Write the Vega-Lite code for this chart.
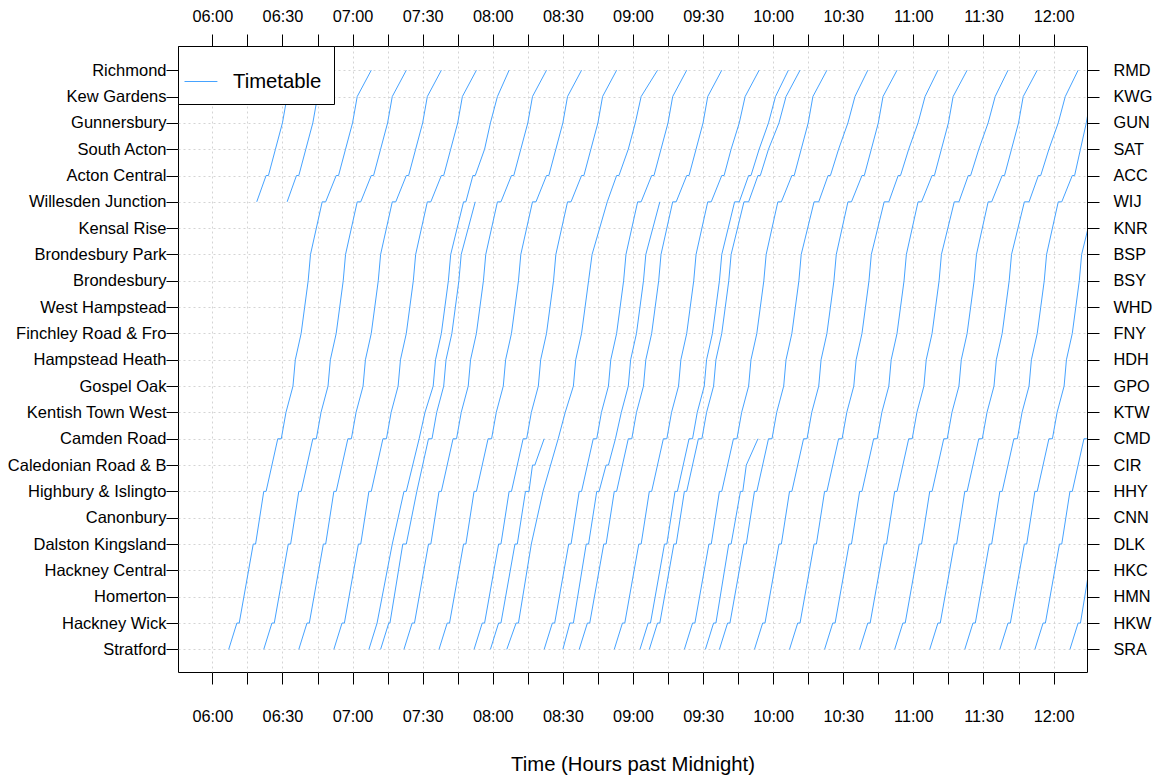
{
"$schema":"https://vega.github.io/schema/vega-lite/v6.json",
"width":909,"height":626,
"autosize":{"type":"none"},
"padding":{"left":178,"top":46,"right":70,"bottom":107},
"background":"white",
"config":{"font":"Liberation Sans","view":{"stroke":"black","strokeWidth":1}},
"data":{"values":[
{"n":1,"s":1,"t":367},{"n":1,"s":2,"t":370.5},{"n":1,"s":2,"t":371.5},{"n":1,"s":5,"t":377.5},{"n":1,"s":5,"t":378.5},{"n":1,"s":7,"t":382},{"n":1,"s":7,"t":383},{"n":1,"s":9,"t":388},{"n":1,"s":9,"t":389.5},{"n":1,"s":10,"t":391.5},{"n":1,"s":11,"t":394.5},{"n":1,"s":12,"t":395.5},{"n":1,"s":13,"t":398},{"n":1,"s":14,"t":399.5},{"n":1,"s":15,"t":401},{"n":1,"s":16,"t":402},{"n":1,"s":18,"t":407},{"n":1,"s":18,"t":408.5},{"n":1,"s":19,"t":413},{"n":1,"s":19,"t":414},{"n":1,"s":20,"t":417},{"n":1,"s":21,"t":420},{"n":1,"s":22,"t":422},{"n":1,"s":23,"t":428},
{"n":2,"s":1,"t":382},{"n":2,"s":2,"t":385.5},{"n":2,"s":2,"t":386.5},{"n":2,"s":5,"t":392.5},{"n":2,"s":5,"t":393.5},{"n":2,"s":7,"t":397},{"n":2,"s":7,"t":398},{"n":2,"s":9,"t":403},{"n":2,"s":9,"t":404.5},{"n":2,"s":10,"t":406.5},{"n":2,"s":11,"t":409.5},{"n":2,"s":12,"t":410.5},{"n":2,"s":13,"t":413},{"n":2,"s":14,"t":414.5},{"n":2,"s":15,"t":416},{"n":2,"s":16,"t":417},{"n":2,"s":18,"t":422},{"n":2,"s":18,"t":423.5},{"n":2,"s":19,"t":428},{"n":2,"s":19,"t":429},{"n":2,"s":20,"t":432},{"n":2,"s":21,"t":435},{"n":2,"s":22,"t":437},{"n":2,"s":23,"t":443},
{"n":3,"s":1,"t":397},{"n":3,"s":2,"t":400.5},{"n":3,"s":2,"t":401.5},{"n":3,"s":5,"t":407.5},{"n":3,"s":5,"t":408.5},{"n":3,"s":7,"t":412},{"n":3,"s":7,"t":413},{"n":3,"s":9,"t":418},{"n":3,"s":9,"t":419.5},{"n":3,"s":10,"t":421.5},{"n":3,"s":11,"t":424.5},{"n":3,"s":12,"t":425.5},{"n":3,"s":13,"t":428},{"n":3,"s":14,"t":429.5},{"n":3,"s":15,"t":431},{"n":3,"s":16,"t":432},{"n":3,"s":18,"t":437},{"n":3,"s":18,"t":438.5},{"n":3,"s":19,"t":443},{"n":3,"s":19,"t":444},{"n":3,"s":20,"t":447},{"n":3,"s":21,"t":450},{"n":3,"s":22,"t":452},{"n":3,"s":23,"t":458},
{"n":4,"s":1,"t":412},{"n":4,"s":2,"t":415.5},{"n":4,"s":2,"t":416.5},{"n":4,"s":5,"t":422.5},{"n":4,"s":5,"t":423.5},{"n":4,"s":7,"t":427},{"n":4,"s":7,"t":428},{"n":4,"s":9,"t":433},{"n":4,"s":9,"t":434.5},{"n":4,"s":10,"t":436.5},{"n":4,"s":11,"t":439.5},{"n":4,"s":12,"t":440.5},{"n":4,"s":13,"t":443},{"n":4,"s":14,"t":444.5},{"n":4,"s":15,"t":446},{"n":4,"s":16,"t":447},{"n":4,"s":18,"t":452},{"n":4,"s":18,"t":453.5},{"n":4,"s":19,"t":458},{"n":4,"s":19,"t":459},{"n":4,"s":20,"t":462},{"n":4,"s":21,"t":465},{"n":4,"s":22,"t":467},{"n":4,"s":23,"t":473},
{"n":5,"s":1,"t":427},{"n":5,"s":2,"t":430.5},{"n":5,"s":5,"t":437},{"n":5,"s":7,"t":442},{"n":5,"s":7,"t":443},{"n":5,"s":9,"t":448.5},{"n":5,"s":10,"t":451},{"n":5,"s":11,"t":454.5},{"n":5,"s":12,"t":455.5},{"n":5,"s":13,"t":458},{"n":5,"s":14,"t":459.5},{"n":5,"s":15,"t":461},{"n":5,"s":16,"t":462},{"n":5,"s":18,"t":467.5},{"n":5,"s":18,"t":468.5},{"n":5,"s":19,"t":471.5},{"n":5,"s":19,"t":472.5},{"n":5,"s":20,"t":476.5},{"n":5,"s":21,"t":479},{"n":5,"s":22,"t":482},{"n":5,"s":23,"t":487},
{"n":6,"s":1,"t":432},{"n":6,"s":2,"t":435.5},{"n":6,"s":2,"t":436},{"n":6,"s":5,"t":441.5},{"n":6,"s":5,"t":443},{"n":6,"s":7,"t":447.5},{"n":6,"s":9,"t":452.5},{"n":6,"s":9,"t":454},{"n":6,"s":10,"t":456},{"n":6,"s":11,"t":459},{"n":6,"s":12,"t":460},{"n":6,"s":13,"t":462.5},{"n":6,"s":14,"t":464},{"n":6,"s":15,"t":465.5},{"n":6,"s":16,"t":466.5},{"n":6,"s":18,"t":472.5},
{"n":7,"s":1,"t":442},{"n":7,"s":2,"t":445.5},{"n":7,"s":2,"t":446.5},{"n":7,"s":5,"t":452.5},{"n":7,"s":5,"t":453.5},{"n":7,"s":7,"t":457},{"n":7,"s":7,"t":458},{"n":7,"s":9,"t":463},{"n":7,"s":9,"t":464.5},{"n":7,"s":10,"t":466.5},{"n":7,"s":11,"t":469.5},{"n":7,"s":12,"t":470.5},{"n":7,"s":13,"t":473},{"n":7,"s":14,"t":474.5},{"n":7,"s":15,"t":476},{"n":7,"s":16,"t":477},{"n":7,"s":18,"t":482},{"n":7,"s":18,"t":483.5},{"n":7,"s":19,"t":488},{"n":7,"s":19,"t":489},{"n":7,"s":20,"t":492},{"n":7,"s":21,"t":495},{"n":7,"s":22,"t":497},{"n":7,"s":23,"t":503},
{"n":8,"s":1,"t":457},{"n":8,"s":2,"t":460.5},{"n":8,"s":2,"t":461.5},{"n":8,"s":5,"t":467.5},{"n":8,"s":5,"t":468.5},{"n":8,"s":7,"t":472},{"n":8,"s":7,"t":473},{"n":8,"s":9,"t":478},{"n":8,"s":9,"t":479.5},{"n":8,"s":10,"t":481.5},{"n":8,"s":11,"t":484.5},{"n":8,"s":12,"t":485.5},{"n":8,"s":13,"t":488},{"n":8,"s":14,"t":489.5},{"n":8,"s":15,"t":491},{"n":8,"s":16,"t":492},{"n":8,"s":18,"t":497},{"n":8,"s":18,"t":498.5},{"n":8,"s":19,"t":503},{"n":8,"s":19,"t":504},{"n":8,"s":20,"t":507},{"n":8,"s":21,"t":510},{"n":8,"s":22,"t":512},{"n":8,"s":23,"t":518},
{"n":9,"s":1,"t":472},{"n":9,"s":2,"t":475.5},{"n":9,"s":2,"t":476.5},{"n":9,"s":5,"t":482.5},{"n":9,"s":5,"t":483.5},{"n":9,"s":7,"t":487},{"n":9,"s":7,"t":488},{"n":9,"s":9,"t":493},{"n":9,"s":9,"t":494.5},{"n":9,"s":10,"t":496.5},{"n":9,"s":11,"t":499.5},{"n":9,"s":12,"t":500.5},{"n":9,"s":13,"t":503},{"n":9,"s":14,"t":504.5},{"n":9,"s":15,"t":506},{"n":9,"s":16,"t":507},{"n":9,"s":18,"t":512},{"n":9,"s":18,"t":513.5},{"n":9,"s":19,"t":518},{"n":9,"s":19,"t":519},{"n":9,"s":20,"t":522},{"n":9,"s":21,"t":525},{"n":9,"s":22,"t":527},{"n":9,"s":23,"t":533},
{"n":10,"s":1,"t":479},{"n":10,"s":2,"t":482.5},{"n":10,"s":2,"t":483.5},{"n":10,"s":5,"t":489.5},{"n":10,"s":5,"t":490.5},{"n":10,"s":7,"t":494},{"n":10,"s":7,"t":495.5},{"n":10,"s":8,"t":497},{"n":10,"s":8,"t":498},{"n":10,"s":9,"t":502},
{"n":11,"s":1,"t":486},{"n":11,"s":2,"t":490},{"n":11,"s":2,"t":491},{"n":11,"s":5,"t":496.5},{"n":11,"s":7,"t":501.5},{"n":11,"s":9,"t":508},{"n":11,"s":10,"t":511},{"n":11,"s":11,"t":514.5},{"n":11,"s":12,"t":515.5},{"n":11,"s":13,"t":518},{"n":11,"s":14,"t":519.5},{"n":11,"s":15,"t":521},{"n":11,"s":16,"t":522.5},{"n":11,"s":18,"t":529},{"n":11,"s":19,"t":533},{"n":11,"s":19,"t":534},{"n":11,"s":20,"t":538},{"n":11,"s":21,"t":541},{"n":11,"s":22,"t":543.5},{"n":11,"s":23,"t":550.5},
{"n":12,"s":1,"t":502},{"n":12,"s":2,"t":505.5},{"n":12,"s":2,"t":506.5},{"n":12,"s":5,"t":512.5},{"n":12,"s":5,"t":513.5},{"n":12,"s":7,"t":517},{"n":12,"s":7,"t":518},{"n":12,"s":9,"t":523},{"n":12,"s":9,"t":524.5},{"n":12,"s":10,"t":526.5},{"n":12,"s":11,"t":529.5},{"n":12,"s":12,"t":530.5},{"n":12,"s":13,"t":533},{"n":12,"s":14,"t":534.5},{"n":12,"s":15,"t":536},{"n":12,"s":16,"t":537},{"n":12,"s":18,"t":542},{"n":12,"s":18,"t":543.5},{"n":12,"s":19,"t":548},{"n":12,"s":19,"t":549},{"n":12,"s":20,"t":552},{"n":12,"s":21,"t":555},{"n":12,"s":22,"t":557},{"n":12,"s":23,"t":563},
{"n":13,"s":1,"t":510},{"n":13,"s":2,"t":513},{"n":13,"s":2,"t":514.5},{"n":13,"s":5,"t":520},{"n":13,"s":5,"t":521},{"n":13,"s":7,"t":524.5},{"n":13,"s":7,"t":525.5},{"n":13,"s":8,"t":528.5},{"n":13,"s":8,"t":529.5},{"n":13,"s":9,"t":532.5},{"n":13,"s":10,"t":535},{"n":13,"s":11,"t":538},{"n":13,"s":12,"t":539},{"n":13,"s":13,"t":541.5},{"n":13,"s":14,"t":543},{"n":13,"s":15,"t":544.5},{"n":13,"s":16,"t":545.5},{"n":13,"s":18,"t":551.5},
{"n":14,"s":1,"t":517},{"n":14,"s":2,"t":520.5},{"n":14,"s":2,"t":521.5},{"n":14,"s":5,"t":527.5},{"n":14,"s":5,"t":528.5},{"n":14,"s":7,"t":532},{"n":14,"s":7,"t":533},{"n":14,"s":9,"t":538},{"n":14,"s":9,"t":539.5},{"n":14,"s":10,"t":541.5},{"n":14,"s":11,"t":544.5},{"n":14,"s":12,"t":545.5},{"n":14,"s":13,"t":548},{"n":14,"s":14,"t":549.5},{"n":14,"s":15,"t":551},{"n":14,"s":16,"t":552},{"n":14,"s":18,"t":557},{"n":14,"s":18,"t":558.5},{"n":14,"s":19,"t":563},{"n":14,"s":19,"t":564},{"n":14,"s":20,"t":567},{"n":14,"s":21,"t":570},{"n":14,"s":22,"t":572},{"n":14,"s":23,"t":578},
{"n":15,"s":1,"t":532},{"n":15,"s":2,"t":535.5},{"n":15,"s":2,"t":536.5},{"n":15,"s":5,"t":542.5},{"n":15,"s":5,"t":543.5},{"n":15,"s":7,"t":547},{"n":15,"s":7,"t":548},{"n":15,"s":9,"t":553},{"n":15,"s":9,"t":554.5},{"n":15,"s":10,"t":556.5},{"n":15,"s":11,"t":559.5},{"n":15,"s":12,"t":560.5},{"n":15,"s":13,"t":563},{"n":15,"s":14,"t":564.5},{"n":15,"s":15,"t":566},{"n":15,"s":16,"t":567},{"n":15,"s":18,"t":572},{"n":15,"s":18,"t":573.5},{"n":15,"s":19,"t":578},{"n":15,"s":19,"t":579},{"n":15,"s":20,"t":582},{"n":15,"s":21,"t":585.5},{"n":15,"s":22,"t":588},{"n":15,"s":23,"t":594},
{"n":16,"s":1,"t":543},{"n":16,"s":2,"t":546.5},{"n":16,"s":2,"t":547.5},{"n":16,"s":5,"t":553.5},{"n":16,"s":5,"t":554.5},{"n":16,"s":7,"t":558},{"n":16,"s":7,"t":559},{"n":16,"s":9,"t":564},{"n":16,"s":9,"t":565.5},{"n":16,"s":10,"t":567.5},{"n":16,"s":11,"t":570.5},{"n":16,"s":12,"t":571.5},{"n":16,"s":13,"t":574},{"n":16,"s":14,"t":575.5},{"n":16,"s":15,"t":577},{"n":16,"s":16,"t":578},{"n":16,"s":18,"t":583.5},{"n":16,"s":18,"t":585.5},{"n":16,"s":19,"t":589.5},{"n":16,"s":19,"t":590.5},{"n":16,"s":20,"t":594},{"n":16,"s":21,"t":598},{"n":16,"s":22,"t":601},{"n":16,"s":23,"t":606.5},
{"n":17,"s":1,"t":547},{"n":17,"s":2,"t":550.5},{"n":17,"s":2,"t":551.5},{"n":17,"s":5,"t":557.5},{"n":17,"s":5,"t":558.5},{"n":17,"s":7,"t":562},{"n":17,"s":7,"t":563},{"n":17,"s":9,"t":568},{"n":17,"s":9,"t":569.5},{"n":17,"s":10,"t":571.5},{"n":17,"s":11,"t":574.5},{"n":17,"s":12,"t":575.5},{"n":17,"s":13,"t":578},{"n":17,"s":14,"t":579.5},{"n":17,"s":15,"t":581},{"n":17,"s":16,"t":582},{"n":17,"s":18,"t":587.5},{"n":17,"s":18,"t":589.5},{"n":17,"s":19,"t":593.5},{"n":17,"s":19,"t":594.5},{"n":17,"s":20,"t":598},{"n":17,"s":21,"t":602.5},{"n":17,"s":22,"t":605.5},{"n":17,"s":23,"t":611.5},
{"n":18,"s":1,"t":562},{"n":18,"s":2,"t":565.5},{"n":18,"s":2,"t":566.5},{"n":18,"s":5,"t":572.5},{"n":18,"s":5,"t":573.5},{"n":18,"s":7,"t":577},{"n":18,"s":7,"t":578},{"n":18,"s":9,"t":583},{"n":18,"s":9,"t":584.5},{"n":18,"s":10,"t":586.5},{"n":18,"s":11,"t":589.5},{"n":18,"s":12,"t":590.5},{"n":18,"s":13,"t":593},{"n":18,"s":14,"t":594.5},{"n":18,"s":15,"t":596},{"n":18,"s":16,"t":597},{"n":18,"s":18,"t":602},{"n":18,"s":18,"t":603.5},{"n":18,"s":19,"t":608},{"n":18,"s":19,"t":609},{"n":18,"s":20,"t":612},{"n":18,"s":21,"t":615},{"n":18,"s":22,"t":617},{"n":18,"s":23,"t":623},
{"n":19,"s":1,"t":571},{"n":19,"s":2,"t":574.5},{"n":19,"s":2,"t":575.5},{"n":19,"s":5,"t":581},{"n":19,"s":5,"t":582},{"n":19,"s":7,"t":586},{"n":19,"s":7,"t":587},{"n":19,"s":8,"t":588.5},{"n":19,"s":9,"t":593.5},
{"n":20,"s":1,"t":577},{"n":20,"s":2,"t":580.5},{"n":20,"s":2,"t":581.5},{"n":20,"s":5,"t":587.5},{"n":20,"s":5,"t":588.5},{"n":20,"s":7,"t":592},{"n":20,"s":7,"t":593},{"n":20,"s":9,"t":598},{"n":20,"s":9,"t":599.5},{"n":20,"s":10,"t":601.5},{"n":20,"s":11,"t":604.5},{"n":20,"s":12,"t":605.5},{"n":20,"s":13,"t":608},{"n":20,"s":14,"t":609.5},{"n":20,"s":15,"t":611},{"n":20,"s":16,"t":612},{"n":20,"s":18,"t":617.5},{"n":20,"s":18,"t":619.5},{"n":20,"s":19,"t":623.5},{"n":20,"s":19,"t":624.5},{"n":20,"s":20,"t":628},{"n":20,"s":21,"t":632},{"n":20,"s":22,"t":635},{"n":20,"s":23,"t":640.5},
{"n":21,"s":1,"t":592},{"n":21,"s":2,"t":595.5},{"n":21,"s":2,"t":596.5},{"n":21,"s":5,"t":602.5},{"n":21,"s":5,"t":603.5},{"n":21,"s":7,"t":607},{"n":21,"s":7,"t":608},{"n":21,"s":9,"t":613},{"n":21,"s":9,"t":614.5},{"n":21,"s":10,"t":616.5},{"n":21,"s":11,"t":619.5},{"n":21,"s":12,"t":620.5},{"n":21,"s":13,"t":623},{"n":21,"s":14,"t":624.5},{"n":21,"s":15,"t":626},{"n":21,"s":16,"t":627},{"n":21,"s":18,"t":632},{"n":21,"s":18,"t":633.5},{"n":21,"s":19,"t":638},{"n":21,"s":19,"t":639},{"n":21,"s":20,"t":642},{"n":21,"s":21,"t":645},{"n":21,"s":22,"t":647},{"n":21,"s":23,"t":653},
{"n":22,"s":1,"t":607},{"n":22,"s":2,"t":610.5},{"n":22,"s":2,"t":611.5},{"n":22,"s":5,"t":617.5},{"n":22,"s":5,"t":618.5},{"n":22,"s":7,"t":622},{"n":22,"s":7,"t":623},{"n":22,"s":9,"t":628},{"n":22,"s":9,"t":629.5},{"n":22,"s":10,"t":631.5},{"n":22,"s":11,"t":634.5},{"n":22,"s":12,"t":635.5},{"n":22,"s":13,"t":638},{"n":22,"s":14,"t":639.5},{"n":22,"s":15,"t":641},{"n":22,"s":16,"t":642},{"n":22,"s":18,"t":647.5},{"n":22,"s":18,"t":649.5},{"n":22,"s":19,"t":653.5},{"n":22,"s":19,"t":654.5},{"n":22,"s":20,"t":658},{"n":22,"s":21,"t":662},{"n":22,"s":22,"t":665},{"n":22,"s":23,"t":670.5},
{"n":23,"s":1,"t":622},{"n":23,"s":2,"t":625.5},{"n":23,"s":2,"t":626.5},{"n":23,"s":5,"t":632.5},{"n":23,"s":5,"t":633.5},{"n":23,"s":7,"t":637},{"n":23,"s":7,"t":638},{"n":23,"s":9,"t":643},{"n":23,"s":9,"t":644.5},{"n":23,"s":10,"t":646.5},{"n":23,"s":11,"t":649.5},{"n":23,"s":12,"t":650.5},{"n":23,"s":13,"t":653},{"n":23,"s":14,"t":654.5},{"n":23,"s":15,"t":656},{"n":23,"s":16,"t":657},{"n":23,"s":18,"t":662},{"n":23,"s":18,"t":663.5},{"n":23,"s":19,"t":668},{"n":23,"s":19,"t":669},{"n":23,"s":20,"t":672},{"n":23,"s":21,"t":675},{"n":23,"s":22,"t":677},{"n":23,"s":23,"t":683},
{"n":24,"s":1,"t":637},{"n":24,"s":2,"t":640.5},{"n":24,"s":2,"t":641.5},{"n":24,"s":5,"t":647.5},{"n":24,"s":5,"t":648.5},{"n":24,"s":7,"t":652},{"n":24,"s":7,"t":653},{"n":24,"s":9,"t":658},{"n":24,"s":9,"t":659.5},{"n":24,"s":10,"t":661.5},{"n":24,"s":11,"t":664.5},{"n":24,"s":12,"t":665.5},{"n":24,"s":13,"t":668},{"n":24,"s":14,"t":669.5},{"n":24,"s":15,"t":671},{"n":24,"s":16,"t":672},{"n":24,"s":18,"t":677.5},{"n":24,"s":18,"t":679.5},{"n":24,"s":19,"t":683.5},{"n":24,"s":19,"t":684.5},{"n":24,"s":20,"t":688},{"n":24,"s":21,"t":692},{"n":24,"s":22,"t":695},{"n":24,"s":23,"t":700.5},
{"n":25,"s":1,"t":652},{"n":25,"s":2,"t":655.5},{"n":25,"s":2,"t":656.5},{"n":25,"s":5,"t":662.5},{"n":25,"s":5,"t":663.5},{"n":25,"s":7,"t":667},{"n":25,"s":7,"t":668},{"n":25,"s":9,"t":673},{"n":25,"s":9,"t":674.5},{"n":25,"s":10,"t":676.5},{"n":25,"s":11,"t":679.5},{"n":25,"s":12,"t":680.5},{"n":25,"s":13,"t":683},{"n":25,"s":14,"t":684.5},{"n":25,"s":15,"t":686},{"n":25,"s":16,"t":687},{"n":25,"s":18,"t":692},{"n":25,"s":18,"t":693.5},{"n":25,"s":19,"t":698},{"n":25,"s":19,"t":699},{"n":25,"s":20,"t":702},{"n":25,"s":21,"t":705},{"n":25,"s":22,"t":707},{"n":25,"s":23,"t":713},
{"n":26,"s":1,"t":667},{"n":26,"s":2,"t":670.5},{"n":26,"s":2,"t":671.5},{"n":26,"s":5,"t":677.5},{"n":26,"s":5,"t":678.5},{"n":26,"s":7,"t":682},{"n":26,"s":7,"t":683},{"n":26,"s":9,"t":688},{"n":26,"s":9,"t":689.5},{"n":26,"s":10,"t":691.5},{"n":26,"s":11,"t":694.5},{"n":26,"s":12,"t":695.5},{"n":26,"s":13,"t":698},{"n":26,"s":14,"t":699.5},{"n":26,"s":15,"t":701},{"n":26,"s":16,"t":702},{"n":26,"s":18,"t":707.5},{"n":26,"s":18,"t":709.5},{"n":26,"s":19,"t":713.5},{"n":26,"s":19,"t":714.5},{"n":26,"s":20,"t":718},{"n":26,"s":21,"t":722},{"n":26,"s":22,"t":725},{"n":26,"s":23,"t":730.5},
{"n":27,"s":1,"t":682},{"n":27,"s":2,"t":685.5},{"n":27,"s":2,"t":686.5},{"n":27,"s":5,"t":692.5},{"n":27,"s":5,"t":693.5},{"n":27,"s":7,"t":697},{"n":27,"s":7,"t":698},{"n":27,"s":9,"t":703},{"n":27,"s":9,"t":704.5},{"n":27,"s":10,"t":706.5},{"n":27,"s":11,"t":709.5},{"n":27,"s":12,"t":710.5},{"n":27,"s":13,"t":713},{"n":27,"s":14,"t":714.5},{"n":27,"s":15,"t":716},{"n":27,"s":16,"t":717},{"n":27,"s":18,"t":722},{"n":27,"s":18,"t":723.5},{"n":27,"s":19,"t":728},{"n":27,"s":19,"t":729},{"n":27,"s":20,"t":731.5},{"n":27,"s":21,"t":734},{"n":27,"s":22,"t":736},{"n":27,"s":23,"t":742},
{"n":28,"s":1,"t":697},{"n":28,"s":2,"t":700.5},{"n":28,"s":2,"t":701.5},{"n":28,"s":5,"t":707.5},{"n":28,"s":5,"t":708.5},{"n":28,"s":7,"t":712},{"n":28,"s":7,"t":713},{"n":28,"s":9,"t":718},{"n":28,"s":9,"t":719.5},{"n":28,"s":10,"t":721.5},{"n":28,"s":11,"t":724.5},{"n":28,"s":12,"t":725.5},{"n":28,"s":13,"t":728},{"n":28,"s":14,"t":729.5},{"n":28,"s":15,"t":731},{"n":28,"s":16,"t":732},{"n":28,"s":18,"t":737.5},{"n":28,"s":18,"t":739.5},
{"n":29,"s":1,"t":712},{"n":29,"s":2,"t":715.5},{"n":29,"s":2,"t":716.5},{"n":29,"s":5,"t":722.5},{"n":29,"s":5,"t":723.5},{"n":29,"s":7,"t":727},{"n":29,"s":7,"t":728},{"n":29,"s":9,"t":733},{"n":29,"s":9,"t":734.5},{"n":29,"s":10,"t":736.5},{"n":29,"s":11,"t":739.5},
{"n":30,"s":1,"t":727},{"n":30,"s":2,"t":730.5},{"n":30,"s":2,"t":731.5},{"n":30,"s":5,"t":737},{"n":30,"s":5,"t":738},
{"n":31,"s":18,"t":379},{"n":31,"s":19,"t":383},{"n":31,"s":19,"t":384},{"n":31,"s":20,"t":387},{"n":31,"s":21,"t":390},{"n":31,"s":22,"t":392},{"n":31,"s":23,"t":398},
{"n":32,"s":18,"t":392},{"n":32,"s":19,"t":396},{"n":32,"s":19,"t":397},{"n":32,"s":20,"t":400},{"n":32,"s":21,"t":403},{"n":32,"s":22,"t":405},{"n":32,"s":23,"t":411}
]},
"layer":[
{"mark":{"type":"line","strokeWidth":1,"clip":true},
 "encoding":{
  "x":{"field":"t","type":"quantitative","scale":{"domain":[345.3,734.3],"nice":false,"zero":false},
   "axis":{"orient":"bottom","values":[360,375,390,405,420,435,450,465,480,495,510,525,540,555,570,585,600,615,630,645,660,675,690,705,720],
    "labelExpr":"datum.value % 30 == 0 ? (floor(datum.value / 60) < 10 ? '0' : '') + floor(datum.value / 60) + ':' + (datum.value % 60 == 0 ? '00' : '30') : ''",
    "domain":false,"ticks":true,"tickSize":12,"tickColor":"black","tickWidth":1,
    "labelFontSize":16.3,"labelColor":"black","labelPadding":24,"labelFlush":false,"labelOverlap":false,
    "grid":true,"gridColor":"#d4d4d4","gridDash":[2,3],"gridWidth":1,
    "title":"Time (Hours past Midnight)","titleFontSize":20.3,"titleFontWeight":"normal","titleColor":"black","titlePadding":30}},
  "y":{"field":"s","type":"quantitative","scale":{"domain":[0.14,23.92],"nice":false,"zero":false},
   "axis":{"orient":"left","values":[1,2,3,4,5,6,7,8,9,10,11,12,13,14,15,16,17,18,19,20,21,22,23],
    "labelExpr":"['Stratford','Hackney Wick','Homerton','Hackney Central','Dalston Kingsland','Canonbury','Highbury & Islingto','Caledonian Road & B','Camden Road','Kentish Town West','Gospel Oak','Hampstead Heath','Finchley Road & Fro','West Hampstead','Brondesbury','Brondesbury Park','Kensal Rise','Willesden Junction','Acton Central','South Acton','Gunnersbury','Kew Gardens','Richmond'][datum.value - 1]",
    "domain":false,"ticks":true,"tickSize":12,"tickColor":"black","tickWidth":1,
    "labelFontSize":16.5,"labelColor":"black","labelPadding":0,"labelFlush":false,"labelOverlap":false,
    "grid":true,"gridColor":"#d4d4d4","gridDash":[2,3],"gridWidth":1,"title":null}},
  "detail":{"field":"n","type":"nominal"},
  "color":{"datum":"Timetable","type":"nominal","scale":{"range":["#46a3ff"]},
   "legend":{"title":null,"orient":"top-left","offset":0,"padding":12,"strokeColor":"black","fillColor":"white","cornerRadius":0,
    "symbolType":"M-1.26,0H0.17","symbolSize":2116,"symbolStrokeWidth":1,"labelFontSize":20.3,"labelColor":"black","labelOffset":-4}}
 }},
{"mark":{"type":"point","opacity":0,"clip":true},
 "encoding":{
  "x":{"field":"t","type":"quantitative","scale":{"domain":[345.3,734.3],"nice":false,"zero":false},
   "axis":{"orient":"top","values":[360,375,390,405,420,435,450,465,480,495,510,525,540,555,570,585,600,615,630,645,660,675,690,705,720],
    "labelExpr":"datum.value % 30 == 0 ? (floor(datum.value / 60) < 10 ? '0' : '') + floor(datum.value / 60) + ':' + (datum.value % 60 == 0 ? '00' : '30') : ''",
    "domain":false,"ticks":true,"tickSize":12,"tickColor":"black","tickWidth":1,
    "labelFontSize":16.3,"labelColor":"black","labelPadding":10,"labelFlush":false,"labelOverlap":false,"grid":false,"title":null}},
  "y":{"field":"s","type":"quantitative","scale":{"domain":[0.14,23.92],"nice":false,"zero":false},
   "axis":{"orient":"right","values":[1,2,3,4,5,6,7,8,9,10,11,12,13,14,15,16,17,18,19,20,21,22,23],
    "labelExpr":"['SRA','HKW','HMN','HKC','DLK','CNN','HHY','CIR','CMD','KTW','GPO','HDH','FNY','WHD','BSY','BSP','KNR','WIJ','ACC','SAT','GUN','KWG','RMD'][datum.value - 1]",
    "domain":false,"ticks":true,"tickSize":12,"tickColor":"black","tickWidth":1,
    "labelFontSize":16.3,"labelColor":"black","labelPadding":14,"labelFlush":false,"labelOverlap":false,"grid":false,"title":null}}
 }}
],
"resolve":{"axis":{"x":"independent","y":"independent"}}
}
